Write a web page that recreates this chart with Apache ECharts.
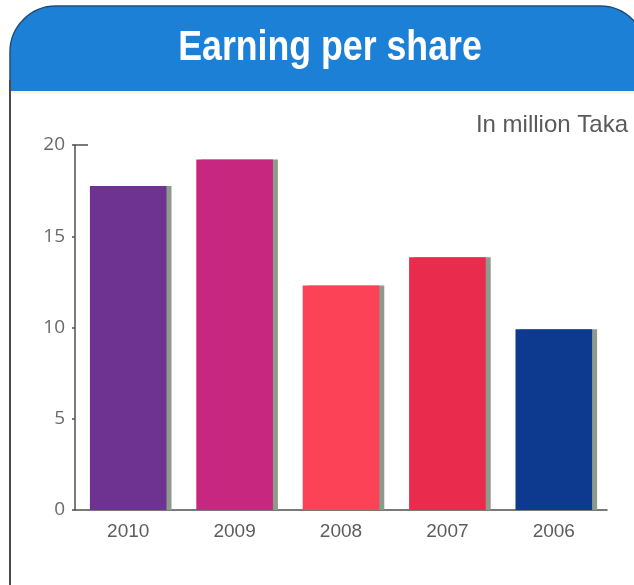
<!DOCTYPE html>
<html>
<head>
<meta charset="utf-8">
<script src="https://cdn.jsdelivr.net/npm/echarts@6/dist/echarts.min.js"></script>
<style>
  html, body { margin: 0; padding: 0; background: #ffffff; }
  #chart { width: 634px; height: 585px; }
</style>
</head>
<body>
<div id="chart"></div>
<script>
// Earning per share, most recent year first
const years = ['2010', '2009', '2008', '2007', '2006'];
const eps = [17.75, 19.2, 12.3, 13.85, 9.9];
const barColors = ['#6e3290', '#c7277e', '#fb4256', '#e92c4e', '#0d3a8e'];
const yTicks = [0, 5, 10, 15, 20];

const chart = echarts.init(document.getElementById('chart'), null, { renderer: 'canvas' });

const gridBox = { left: 75, right: 27, top: 145, bottom: 75 };

const option = {
  animation: false,
  backgroundColor: '#ffffff',
  grid: Object.assign({ containLabel: false }, gridBox),
  xAxis: {
    type: 'category',
    data: years,
    boundaryGap: true,
    axisLine: { lineStyle: { color: '#4f4f4f', width: 1.5 } },
    axisTick: { inside: true, length: 6, lineStyle: { color: '#4f4f4f', width: 1.5 } },
    axisLabel: {
      margin: 12,
      fontFamily: 'Liberation Sans',
      fontSize: 19,
      color: '#5c5c5c'
    }
  },
  yAxis: {
    type: 'value',
    min: yTicks[0],
    max: yTicks[yTicks.length - 1],
    interval: 5,
    splitLine: { show: false },
    axisLine: { show: true, lineStyle: { color: '#4f4f4f', width: 1.5 } },
    axisTick: { show: true, length: 3, lineStyle: { color: '#4f4f4f', width: 1.5 } },
    axisLabel: {
      margin: 10,
      fontFamily: 'Open Sans',
      fontSize: 19,
      color: '#6a6a6a'
    }
  },
  series: [{
    type: 'bar',
    barCategoryGap: '28%',
    data: eps.map((v, i) => ({
      value: v,
      itemStyle: {
        color: barColors[i],
        shadowColor: '#8e9a8c',
        shadowOffsetX: 5,
        shadowOffsetY: 0,
        shadowBlur: 0
      }
    }))
  }],
  graphic: [
    // blue header band with rounded top corners
    {
      type: 'rect',
      z: 10,
      shape: { x: 10, y: 6, width: 636, height: 86, r: [46, 46, 0, 0] },
      style: { fill: '#1c81d6', stroke: '#1d4d78', lineWidth: 1.5 }
    },
    // pale rule under the header
    {
      type: 'rect', z: 10,
      shape: { x: 11, y: 91, width: 623, height: 3 },
      style: { fill: '#fdf6dc' }
    },
    // left frame line
    {
      type: 'line', z: 10,
      shape: { x1: 10, y1: 80, x2: 10, y2: 585 },
      style: { stroke: '#4a4a4a', lineWidth: 2 }
    },
    {
      type: 'text', z: 11,
      x: 330, y: 48,
      scaleX: 0.85,
      style: {
        text: 'Earning per share',
        fill: '#ffffff',
        fontFamily: 'Liberation Sans',
        fontWeight: 'bold',
        fontSize: 42,
        align: 'center',
        verticalAlign: 'middle'
      }
    },
    {
      type: 'text', z: 11,
      x: 628, y: 125,
      style: {
        text: 'In million Taka',
        fill: '#5a5a5a',
        fontFamily: 'Liberation Sans',
        fontSize: 24,
        align: 'right',
        verticalAlign: 'middle'
      }
    }
  ]
};

chart.setOption(option);

// short cap at the top of the value axis
const capY = chart.convertToPixel({ yAxisIndex: 0 }, yTicks[yTicks.length - 1]);
const axisX = gridBox.left;
chart.setOption({
  graphic: option.graphic.concat([{
    type: 'line', z: 5,
    shape: { x1: axisX, y1: capY, x2: axisX + 13, y2: capY },
    style: { stroke: '#4f4f4f', lineWidth: 1.5 }
  }])
});
</script>
</body>
</html>
